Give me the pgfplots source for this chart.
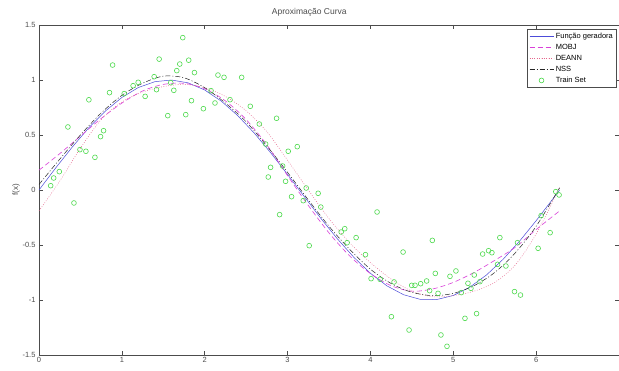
\documentclass[border=0pt]{standalone}
\usepackage{fontspec}
\setmainfont{Liberation Sans}
\usepackage{pgfplots}
\pgfplotsset{compat=1.18}

\definecolor{gerblue}{rgb}{0.30,0.30,0.85}
\definecolor{mobjmag}{rgb}{0.85,0.25,0.85}
\definecolor{deannred}{rgb}{0.90,0.40,0.55}
\definecolor{nssblack}{rgb}{0.15,0.15,0.15}
\definecolor{trgreen}{rgb}{0.30,0.85,0.30}
\definecolor{axgray}{rgb}{0.30,0.30,0.30}

\begin{document}
\begin{tikzpicture}
\begin{axis}[
  scale only axis,
  width=580pt, height=330pt,
  xmin=0, xmax=7, ymin=-1.5, ymax=1.5,
  xtick={0,1,2,3,4,5,6},
  ytick={-1.5,-1,-0.5,0,0.5,1,1.5},
  tick align=inside,
  major tick length=4pt,
  axis line style={axgray, line width=0.6pt},
  tick style={axgray, line width=0.5pt},
  /pgf/number format/assume math mode=true,
  ticklabel style={font=\fontsize{7.5}{8}\selectfont, text=axgray},
  xticklabel style={yshift=1pt},
  title={Aproximação Curva},
  title style={font=\fontsize{8.5}{9}\selectfont, text=axgray, at={(0.466,1)}, yshift=-1pt},
  ylabel={f(x)},
  ylabel style={font=\fontsize{8}{9}\selectfont, text=axgray, yshift=-4pt},
  legend cell align=left,
  legend image code/.code={\draw[mark repeat=2,mark phase=2,#1] plot coordinates {(0pt,0pt) (12pt,0pt) (24pt,0pt)};},
  legend style={at={(0.996,0.988)}, anchor=north east, draw=axgray, line width=0.5pt,
    font=\fontsize{7.5}{9}\selectfont, inner xsep=1.5pt, inner ysep=1.5pt, row sep=0.3pt,
    /tikz/every even column/.append style={column sep=0pt}},
]
% generating function
\addplot[color=gerblue, draw=gerblue, line width=0.5pt] coordinates {
(0,0) (0.2,0.199) (0.4,0.389) (0.6,0.565) (0.8,0.717) (1.0,0.841) (1.2,0.932)
(1.4,0.985) (1.6,0.9996) (1.8,0.974) (2.0,0.909) (2.2,0.808) (2.4,0.675)
(2.6,0.516) (2.8,0.335) (3.0,0.141) (3.2,-0.058) (3.4,-0.256) (3.6,-0.443)
(3.8,-0.612) (4.0,-0.757) (4.2,-0.872) (4.4,-0.952) (4.6,-0.994) (4.8,-0.996)
(5.0,-0.959) (5.2,-0.883) (5.4,-0.773) (5.6,-0.631) (5.8,-0.465) (6.0,-0.279)
(6.2,-0.083) (6.283,0)};
\addlegendentry{Função geradora}
% MOBJ network
\addplot[color=mobjmag, draw=mobjmag, line width=0.6pt, dash pattern=on 5pt off 3pt, smooth] coordinates {
(0,0.18) (0.25,0.33) (0.5,0.49) (0.75,0.65) (1.0,0.79) (1.25,0.90) (1.5,0.96)
(1.75,0.97) (2.0,0.92) (2.25,0.81) (2.5,0.64) (2.75,0.41) (3.0,0.13) (3.25,-0.14)
(3.5,-0.39) (3.75,-0.60) (4.0,-0.76) (4.25,-0.87) (4.5,-0.92) (4.75,-0.90)
(5.0,-0.84) (5.25,-0.75) (5.5,-0.64) (5.75,-0.52) (6.0,-0.36) (6.283,-0.19)};
\addlegendentry{MOBJ}
% DEANN network
\addplot[color=deannred, draw=deannred, line width=0.5pt, dash pattern=on 0.8pt off 1.6pt, smooth] coordinates {
(0,-0.19) (0.25,0.08) (0.5,0.38) (0.75,0.64) (1.0,0.80) (1.25,0.89) (1.5,0.94)
(1.75,0.96) (2.0,0.93) (2.25,0.85) (2.5,0.72) (2.75,0.53) (3.0,0.27) (3.25,0.0)
(3.5,-0.26) (3.75,-0.48) (4.0,-0.66) (4.25,-0.81) (4.5,-0.92) (4.75,-0.97)
(5.0,-0.96) (5.25,-0.92) (5.5,-0.84) (5.75,-0.68) (6.0,-0.40) (6.283,0.02)};
\addlegendentry{DEANN}
% NSS network
\addplot[color=nssblack, draw=nssblack, line width=0.5pt, dash pattern=on 5pt off 2pt on 1pt off 2pt, smooth] coordinates {
(0,0.05) (0.25,0.28) (0.5,0.50) (0.75,0.70) (1.0,0.86) (1.25,0.97) (1.5,1.035)
(1.75,1.02) (2.0,0.93) (2.25,0.79) (2.5,0.62) (2.75,0.40) (3.0,0.16) (3.25,-0.09)
(3.5,-0.33) (3.75,-0.54) (4.0,-0.72) (4.25,-0.85) (4.5,-0.93) (4.75,-0.96)
(5.0,-0.94) (5.25,-0.87) (5.5,-0.75) (5.75,-0.57) (6.0,-0.33) (6.283,0.02)};
\addlegendentry{NSS}
% training samples
\addplot[only marks, mark=o, mark size=2.4pt, color=trgreen, draw=trgreen,
  mark options={color=trgreen, draw=trgreen, line width=0.6pt, solid}] table {
x y
0.141 0.039
0.177 0.109
0.245 0.167
0.349 0.573
0.422 -0.118
0.494 0.367
0.566 0.352
0.602 0.820
0.675 0.297
0.743 0.485
0.779 0.539
0.851 0.885
0.888 1.136
1.028 0.876
1.136 0.948
1.197 0.979
1.281 0.851
1.390 1.030
1.418 0.912
1.450 1.190
1.554 0.676
1.590 0.976
1.627 0.906
1.663 1.085
1.699 1.145
1.735 1.385
1.771 0.685
1.807 1.180
1.840 0.812
1.876 1.067
1.984 0.739
2.076 0.903
2.124 0.791
2.160 1.045
2.233 1.024
2.305 0.821
2.446 1.024
2.550 0.761
2.659 0.600
2.735 0.418
2.767 0.118
2.795 0.206
2.867 0.652
2.904 -0.224
2.940 0.218
2.976 0.079
3.008 0.352
3.048 -0.061
3.117 0.394
3.189 -0.097
3.225 0.018
3.261 -0.506
3.369 -0.030
3.401 -0.155
3.647 -0.382
3.690 -0.352
3.719 -0.479
3.827 -0.433
3.940 -0.588
4.008 -0.806
4.080 -0.200
4.117 -0.812
4.253 -1.152
4.285 -0.836
4.394 -0.564
4.466 -1.273
4.498 -0.867
4.538 -0.867
4.606 -0.852
4.678 -0.827
4.714 -0.915
4.747 -0.458
4.783 -0.758
4.816 -0.940
4.851 -1.318
4.924 -1.421
4.960 -0.785
5.032 -0.736
5.096 -0.933
5.141 -1.167
5.177 -0.848
5.213 -0.894
5.253 -0.773
5.281 -1.124
5.322 -0.833
5.354 -0.582
5.426 -0.552
5.466 -0.570
5.534 -0.676
5.562 -0.433
5.635 -0.691
5.739 -0.924
5.775 -0.479
5.811 -0.955
6.024 -0.530
6.060 -0.233
6.169 -0.388
6.237 -0.015
6.277 -0.045
};
\addlegendentry{Train Set}
\end{axis}
\pgfresetboundingbox
\path[use as bounding box] (-39pt,-16pt) rectangle (580pt,355pt);
\end{tikzpicture}
\end{document}
